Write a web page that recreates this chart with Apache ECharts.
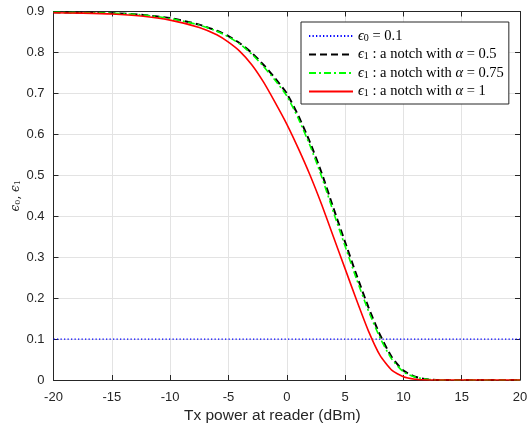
<!DOCTYPE html>
<html>
<head>
<meta charset="utf-8">
<script src="https://cdn.jsdelivr.net/npm/echarts@6/dist/echarts.min.js"></script>
<style>html,body{margin:0;padding:0;background:#fff}#c{width:527px;height:428px}</style>
</head>
<body>
<div id="c"></div>
<script>
// Tx power (dBm)
const txPower = [-20,-17.5,-15,-12.5,-10,-7.5,-6,-5,-4,-3,-2,-1,0,1,2,3,4,5,6,7,8,9,10,11,12,13,14,15,17.5,20];
// epsilon_0 = 0.1 (constant)
const eps0 = [0.1,0.1,0.1,0.1,0.1,0.1,0.1,0.1,0.1,0.1,0.1,0.1,0.1,0.1,0.1,0.1,0.1,0.1,0.1,0.1,0.1,0.1,0.1,0.1,0.1,0.1,0.1,0.1,0.1,0.1];
// epsilon_1, notch alpha = 0.5
const epsA05 = [0.898,0.897,0.896,0.892,0.884,0.868,0.853,0.840,0.822,0.799,0.770,0.737,0.700,0.645,0.580,0.505,0.420,0.337,0.255,0.178,0.110,0.056,0.023,0.008,0.002,0,0,0,0,0];
// epsilon_1, notch alpha = 0.75
const epsA075 = [0.898,0.897,0.896,0.892,0.883,0.867,0.852,0.838,0.820,0.796,0.766,0.732,0.694,0.638,0.572,0.496,0.410,0.327,0.245,0.169,0.103,0.051,0.020,0.007,0.002,0,0,0,0,0];
// epsilon_1, notch alpha = 1
const epsA1 = [0.897,0.896,0.894,0.889,0.879,0.861,0.843,0.825,0.802,0.770,0.728,0.678,0.625,0.565,0.500,0.428,0.350,0.272,0.194,0.120,0.060,0.024,0.008,0.002,0,0,0,0,0,0];
const xTicks = {min:-20, max:20, interval:5};
const yTicks = {min:0, max:0.9, interval:0.1};
const legendLabels = [
  '{i|ϵ}{s|0} = 0.1',
  '{i|ϵ}{s|1} : a notch with {i|α} = 0.5',
  '{i|ϵ}{s|1} : a notch with {i|α} = 0.75',
  '{i|ϵ}{s|1} : a notch with {i|α} = 1'
];
const seriesNames = ['e0','a05','a075','a1'];

const pair = arr => txPower.map((x,i)=>[x,arr[i]]);
const axisCol = '#262626';
const tickFont = {fontFamily:'Liberation Sans', fontSize:13, color:axisCol};
const serif = 'DejaVu Serif';
const lserif = 'Liberation Serif';

const chart = echarts.init(document.getElementById('c'), null, {renderer:'canvas'});
const baseX = {type:'value', min:xTicks.min, max:xTicks.max, interval:xTicks.interval,
  axisLine:{show:true, onZero:false, lineStyle:{color:axisCol, width:1}},
  axisTick:{show:true, inside:true, length:5, lineStyle:{color:axisCol}}};
const baseY = {type:'value', min:yTicks.min, max:yTicks.max, interval:yTicks.interval,
  axisLine:{show:true, onZero:false, lineStyle:{color:axisCol, width:1}},
  axisTick:{show:true, inside:true, length:5, lineStyle:{color:axisCol}}};

chart.setOption({
  animation:false,
  backgroundColor:'#fff',
  grid:{left:53.5, right:7, top:11.5, bottom:48, containLabel:false, outerBoundsMode:'none'},
  xAxis:[
    Object.assign({}, baseX, {position:'bottom',
      axisLabel:Object.assign({margin:11}, tickFont),
      splitLine:{show:true, lineStyle:{color:'#e3e3e3', width:1}},
      name:'Tx power at reader (dBm)', nameLocation:'middle', nameGap:28, nameMoveOverlap:false,
      nameTextStyle:{fontFamily:'Liberation Sans', fontSize:15.5, color:axisCol, padding:[0,29,0,0]}}),
    Object.assign({}, baseX, {position:'top', axisLabel:{show:false}, splitLine:{show:false}})
  ],
  yAxis:[
    Object.assign({}, baseY, {position:'left',
      axisLabel:Object.assign({margin:9}, tickFont),
      splitLine:{show:true, lineStyle:{color:'#e3e3e3', width:1}},
      name:'{i|ϵ}{s|0}, {i|ϵ}{s|1}', nameLocation:'middle', nameGap:32, nameRotate:90, nameMoveOverlap:false,
      nameTextStyle:{fontFamily:serif, fontSize:12, color:axisCol,
        rich:{i:{fontStyle:'italic', fontFamily:serif, fontSize:12, color:axisCol},
              s:{fontFamily:serif, fontSize:8, color:axisCol, verticalAlign:'bottom', padding:[4,0,0,0]}}}}),
    Object.assign({}, baseY, {position:'right', axisLabel:{show:false}, splitLine:{show:false}})
  ],
  legend:{
    orient:'vertical', left:301, top:22, itemWidth:44, itemHeight:14, itemGap:2,
    itemStyle:{opacity:0},
    padding:[5,5,5,7], backgroundColor:'#fff', borderColor:axisCol, borderWidth:1, borderRadius:0,
    selectedMode:false, data:seriesNames,
    formatter: name => legendLabels[seriesNames.indexOf(name)],
    textStyle:{fontFamily:lserif, fontSize:14.5, lineHeight:14, color:'#000',
      rich:{i:{fontStyle:'italic', fontFamily:lserif, fontSize:14.5, lineHeight:14, color:'#000'},
            s:{fontFamily:lserif, fontSize:10, lineHeight:14, color:'#000', verticalAlign:'bottom', padding:[6,0,0,0]}}}
  },
  series:[
    {name:'e0', type:'line', data:pair(eps0), symbol:'none', showSymbol:false,
      lineStyle:{color:'#0000ff', width:1.3, type:[1.3,2.2]}, itemStyle:{color:'#0000ff'}},
    {name:'a05', type:'line', data:pair(epsA05), symbol:'none', showSymbol:false, smooth:0.2,
      lineStyle:{color:'#000', width:2, type:[7,4]}, itemStyle:{color:'#000'}},
    {name:'a075', type:'line', data:pair(epsA075), symbol:'none', showSymbol:false, smooth:0.2,
      lineStyle:{color:'#00ff00', width:1.6, type:[7,3,2,3]}, itemStyle:{color:'#00ff00'}},
    {name:'a1', type:'line', data:pair(epsA1), symbol:'none', showSymbol:false, smooth:0.2,
      lineStyle:{color:'#ff0000', width:1.6}, itemStyle:{color:'#ff0000'}}
  ]
});
</script>
</body>
</html>
